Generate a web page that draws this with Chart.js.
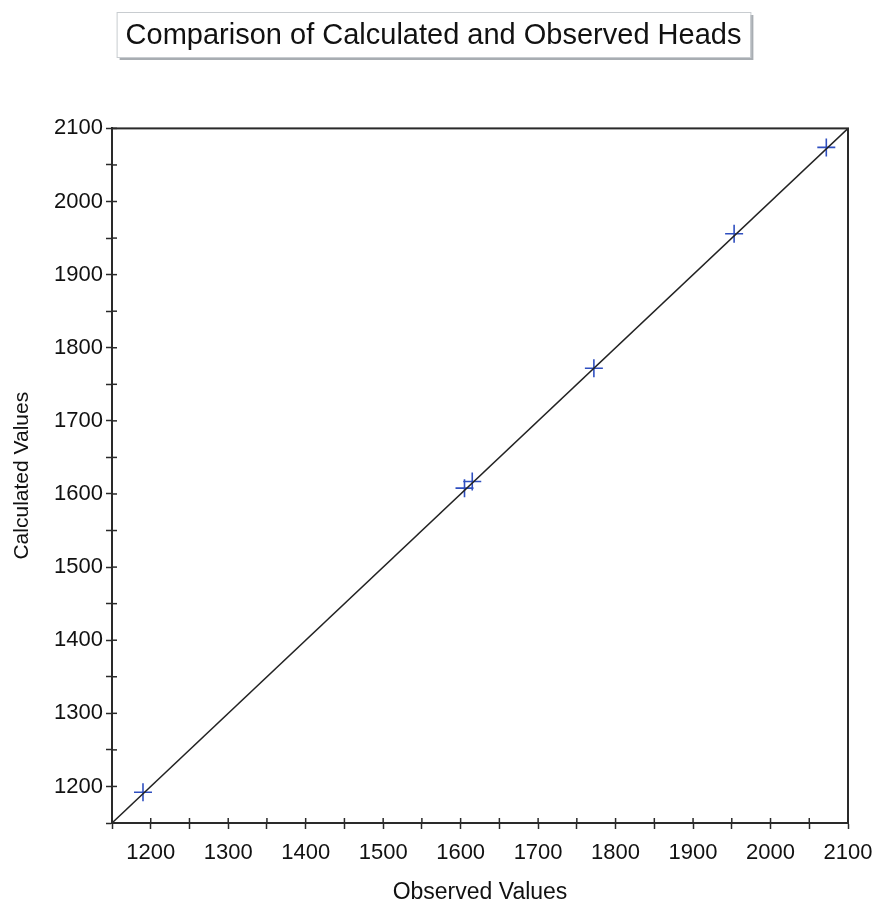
<!DOCTYPE html>
<html>
<head>
<meta charset="utf-8">
<script src="https://cdn.jsdelivr.net/npm/chart.js@4/dist/chart.umd.min.js"></script>
<style>
  html, body { margin: 0; padding: 0; background: #fff; }
  #wrap { width: 877px; height: 906px; }
</style>
</head>
<body>
<div id="wrap"><canvas id="heads"></canvas></div>
<script>
// observed vs calculated heads
const observed = [1190, 1605, 1615, 1772, 1953, 2072];
const calculated = [1192, 1608, 1617, 1772, 1956, 2074];
// 1:1 reference line
const lineEnds = [1150, 2100];

const FONT = "'Liberation Sans', Arial, sans-serif";
const AXIS = '#2a2a2a';

// frame + ticks crossing the axes + boxed title
const framePlugin = {
  id: 'frame',
  afterDraw(chart) {
    const { ctx, chartArea: a } = chart;
    ctx.save();
    ctx.strokeStyle = AXIS;
    ctx.lineWidth = 2;
    ctx.strokeRect(a.left, a.top, a.right - a.left, a.bottom - a.top);

    // inner half of the tick marks
    ctx.lineWidth = 1.5;
    const xs = chart.scales.x, ys = chart.scales.y;
    xs.ticks.forEach(t => {
      const px = xs.getPixelForValue(t.value);
      ctx.beginPath(); ctx.moveTo(px, a.bottom); ctx.lineTo(px, a.bottom - 5); ctx.stroke();
    });
    ys.ticks.forEach(t => {
      const py = ys.getPixelForValue(t.value);
      ctx.beginPath(); ctx.moveTo(a.left, py); ctx.lineTo(a.left + 5, py); ctx.stroke();
    });

    // box around the title
    ctx.font = "29px " + FONT;
    const text = chart.options.plugins.title.text;
    const w = ctx.measureText(text).width;
    const cx = chart.width / 2 - 5;
    const bx = cx - w / 2 - 9, by = 12, bw = w + 18, bh = 45;
    ctx.fillStyle = '#a8adb2';
    ctx.fillRect(bx + 3, by + 3, bw, bh);
    ctx.fillStyle = '#fff';
    ctx.fillRect(bx, by, bw, bh);
    ctx.strokeStyle = '#c8ccd0';
    ctx.lineWidth = 1;
    ctx.strokeRect(bx + 0.5, by + 0.5, bw, bh);
    ctx.fillStyle = '#111';
    ctx.textAlign = 'center';
    ctx.textBaseline = 'middle';
    ctx.fillText(text, cx, by + bh / 2 + 1);
    ctx.restore();
  }
};

const ctx = document.getElementById('heads').getContext('2d');
new Chart(ctx, {
  type: 'scatter',
  data: {
    datasets: [
      {
        label: '1:1',
        data: lineEnds.map(v => ({ x: v, y: v })),
        showLine: true,
        borderColor: '#222',
        borderWidth: 1.5,
        pointRadius: 0
      },
      {
        label: 'Heads',
        data: observed.map((v, i) => ({ x: v, y: calculated[i] })),
        pointStyle: 'cross',
        pointRadius: 9,
        borderColor: '#2f4fc0',
        borderWidth: 1.6,
        backgroundColor: '#2f4fc0'
      }
    ]
  },
  options: {
    responsive: true,
    maintainAspectRatio: false,
    animation: false,
    layout: { padding: { left: 0, right: 29, top: 0, bottom: 0 } },
    plugins: {
      legend: { display: false },
      tooltip: { enabled: false },
      title: {
        display: true,
        text: 'Comparison of Calculated and Observed Heads',
        color: 'rgba(0,0,0,0)',
        font: { family: FONT, size: 27, weight: 'normal' },
        padding: { top: 18, bottom: 78 }
      }
    },
    scales: {
      x: {
        type: 'linear',
        min: 1150,
        max: 2100,
        afterFit: s => { s.height = 83; s.paddingLeft = 0; s.paddingRight = 0; },
        ticks: {
          stepSize: 50,
          autoSkip: false,
          maxRotation: 0,
          color: '#111',
          font: { family: FONT, size: 22 },
          padding: 11,
          callback: v => (v % 100 === 0 ? v : '')
        },
        grid: { drawOnChartArea: false, tickLength: 6, tickWidth: 1.5, color: AXIS },
        border: { color: AXIS, width: 2 },
        title: {
          display: true,
          text: 'Observed Values',
          color: '#111',
          font: { family: FONT, size: 23 },
          padding: { top: 0, bottom: 0 }
        }
      },
      y: {
        type: 'linear',
        min: 1150,
        max: 2100,
        afterFit: s => { s.width = 112; s.paddingTop = 0; s.paddingBottom = 0; },
        ticks: {
          stepSize: 50,
          autoSkip: false,
          color: '#111',
          font: { family: FONT, size: 22 },
          padding: 3,
          callback: v => (v % 100 === 0 ? v : '')
        },
        grid: { drawOnChartArea: false, tickLength: 6, tickWidth: 1.5, color: AXIS },
        border: { color: AXIS, width: 2 },
        title: {
          display: true,
          text: 'Calculated Values',
          color: '#111',
          font: { family: FONT, size: 21 },
          padding: { top: 10, bottom: 0 }
        }
      }
    }
  },
  plugins: [framePlugin]
});
</script>
</body>
</html>
